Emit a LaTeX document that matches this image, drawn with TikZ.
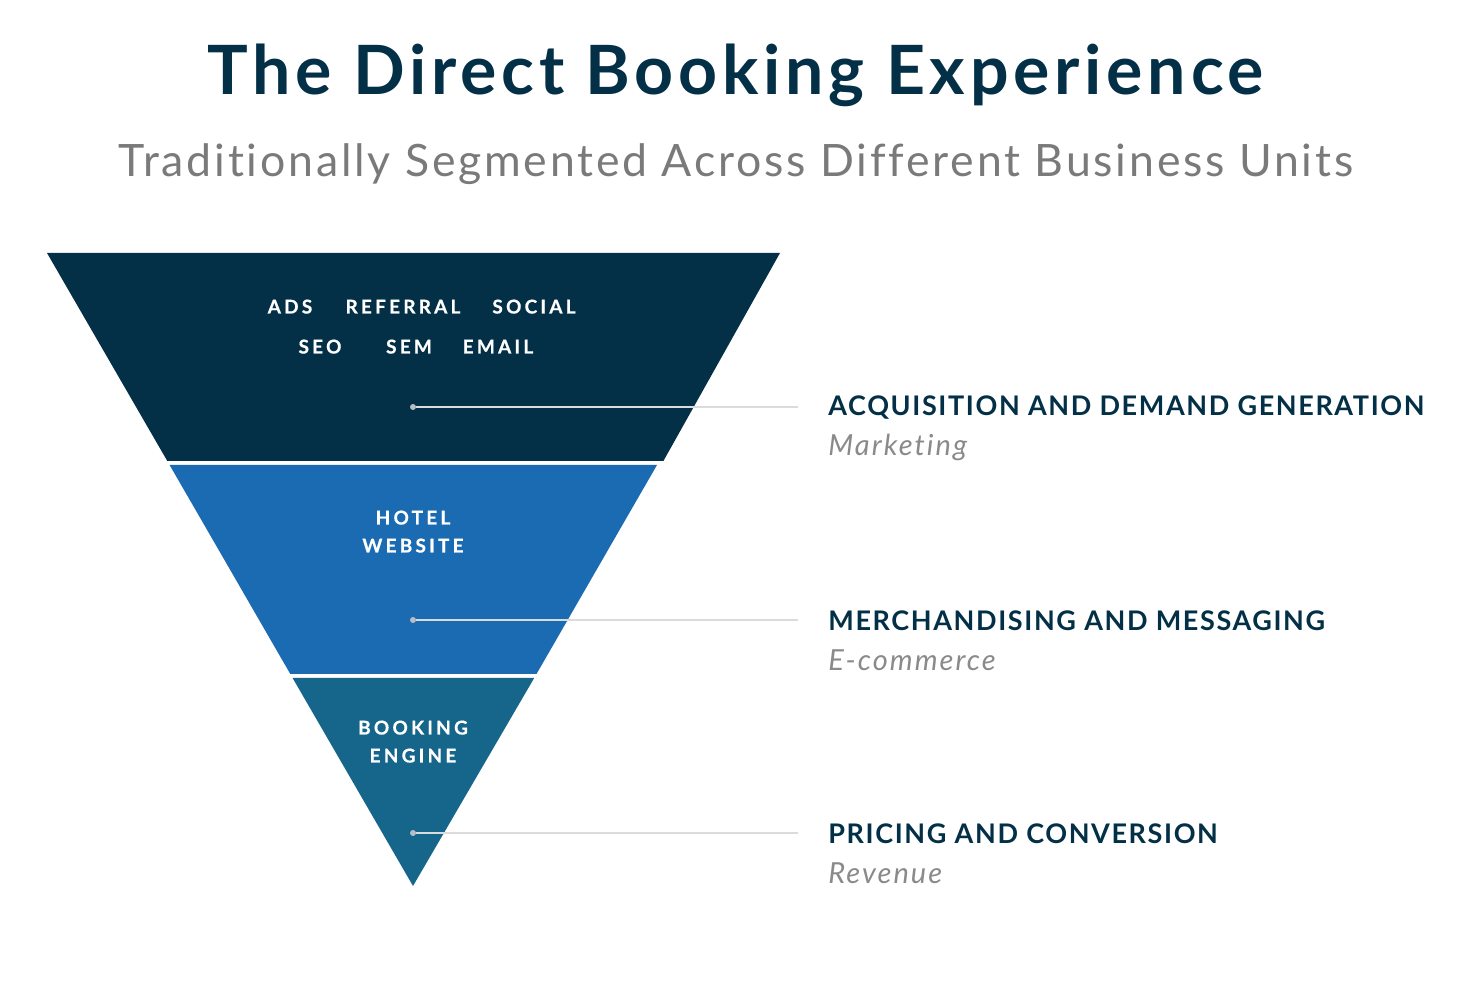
\documentclass[tikz,border=0pt]{standalone}
\usepackage{fontspec}
\setmainfont{Lato}
\newfontfamily\titlefont[LetterSpace=7,Ligatures=NoCommon]{Lato Bold}
\newfontfamily\subfont[LetterSpace=6.3,Ligatures=NoCommon]{Lato}
\newfontfamily\lbl[LetterSpace=6]{Lato Bold}
\newfontfamily\inner[LetterSpace=17,FakeBold=0.6]{Lato Bold}
\newfontfamily\subit[LetterSpace=7,Ligatures=NoCommon]{Lato Italic}
\definecolor{navy}{HTML}{033047}
\definecolor{midblue}{HTML}{1A6BB2}
\definecolor{teal}{HTML}{15668A}
\definecolor{subgrey}{HTML}{7A7A7A}
\definecolor{itgrey}{HTML}{8A8A8A}
\definecolor{connline}{HTML}{D9DCDF}
\definecolor{dotgrey}{HTML}{B8BEC4}
\begin{document}
\begin{tikzpicture}[x=0.5pt,y=-0.5pt,
  inlbl/.style={text=white,font=\inner\fontsize{9.5}{14}\selectfont,inner sep=0pt,anchor=base},
  inlbltwo/.style={inlbl,align=center},
  headlbl/.style={text=navy,font=\lbl\fontsize{13.5}{15}\selectfont,inner sep=0pt,anchor=base west},
  sublbl/.style={text=itgrey,font=\subit\fontsize{14.5}{16}\selectfont,inner sep=0pt,anchor=base west},
  conn/.style={draw=connline,line width=0.9pt},
  dot/.style={circle,fill=dotgrey,inner sep=0pt,minimum size=3pt}]
\useasboundingbox (0,0) rectangle (1474,988);
% funnel segments (edges of one triangle: (47,253)-(413,886)-(780,253))
\fill[navy] (47,253) -- (780,253) -- (663.4,461) -- (167.3,461) -- cycle;
\fill[midblue] (169.6,465) -- (657,465) -- (536.5,674) -- (290.3,674) -- cycle;
\fill[teal] (292.6,678) -- (534.2,678) -- (413,886) -- cycle;
% title
\node[text=navy,font=\titlefont\fontsize{34}{40}\selectfont,inner sep=0pt,anchor=base] (title) at (736,95) {The Direct Booking Experience};
\node[text=subgrey,font=\subfont\fontsize{22.3}{26}\selectfont,inner sep=0pt,anchor=base] (subtitle) at (736,177) {Traditionally Segmented Across Different Business Units};
% inner labels
\node[inlbl] (ads) at (290,313.5) {ADS};
\node[inlbl] (ref) at (403,313.5) {REFERRAL};
\node[inlbl] (soc) at (534,313.5) {SOCIAL};
\node[inlbl] (seo) at (320,353.5) {SEO};
\node[inlbl] (sem) at (409,353.5) {SEM};
\node[inlbl] (email) at (498,353.5) {EMAIL};
\node[inlbltwo] (hotel) at (413,552.5) {HOTEL\\WEBSITE};
\node[inlbltwo] (booking) at (413,762.5) {BOOKING\\ENGINE};
% connectors
\node[dot] (d1) at (413,407) {};
\node[dot] (d2) at (413,620) {};
\node[dot] (d3) at (413,833) {};
\coordinate (e1) at (798,407);
\coordinate (e2) at (798,620);
\coordinate (e3) at (798,833);
\draw[conn] (d1) -- (e1);
\draw[conn] (d2) -- (e2);
\draw[conn] (d3) -- (e3);
% right labels
\node[headlbl] (h1) at (828,416) {ACQUISITION AND DEMAND GENERATION};
\node[sublbl] (s1) at (828,456) {Marketing};
\node[headlbl] (h2) at (828,631) {MERCHANDISING AND MESSAGING};
\node[sublbl] (s2) at (828,671) {E-commerce};
\node[headlbl] (h3) at (828,844) {PRICING AND CONVERSION};
\node[sublbl] (s3) at (828,884) {Revenue};
\end{tikzpicture}
\end{document}
